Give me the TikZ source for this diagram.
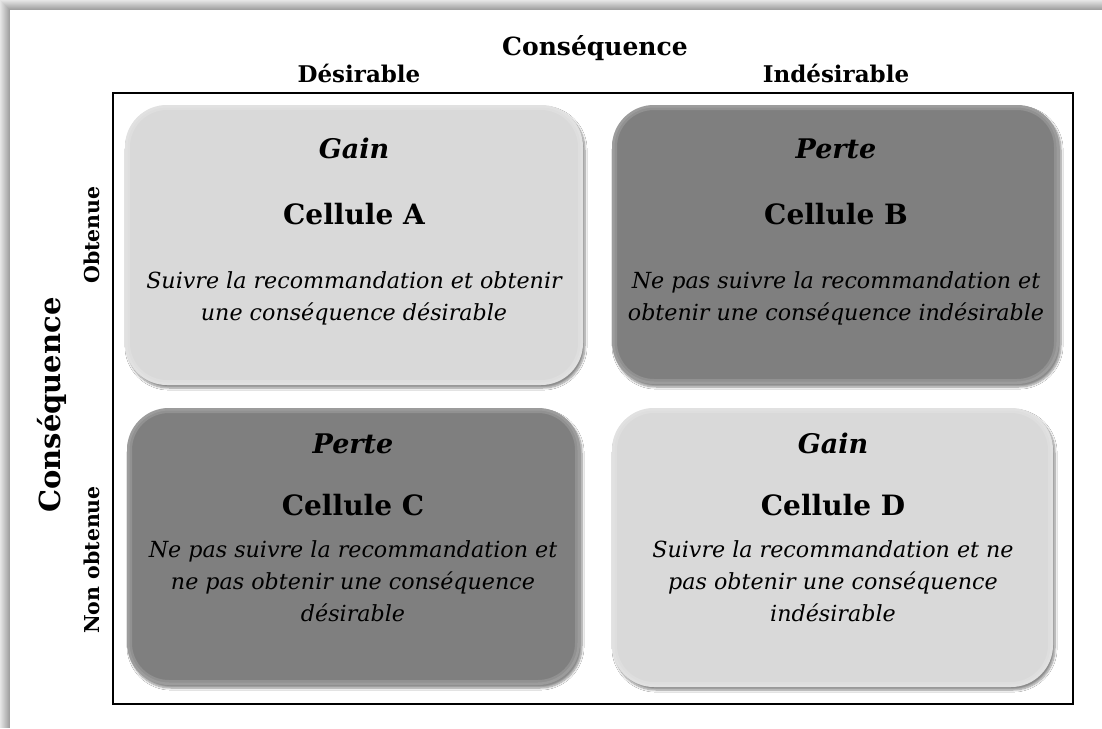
\documentclass[tikz,border=0pt]{standalone}
\usepackage{fontspec}
\setmainfont{DejaVu Serif}
\usetikzlibrary{shadows.blur}
\definecolor{lightcell}{HTML}{D9D9D9}
\definecolor{darkcell}{HTML}{7F7F7F}
\tikzset{
  cell/.style={rounded corners=42pt, inner sep=0pt, draw=none,
    blur shadow={shadow xshift=2pt, shadow yshift=-3pt, shadow blur steps=8, shadow opacity=45},
    path picture={
      \draw[white, opacity=.14, line width=10pt, rounded corners=42pt]
        (path picture bounding box.south west) rectangle (path picture bounding box.north east);
      \draw[white, opacity=.10, line width=5pt, rounded corners=42pt]
        (path picture bounding box.south west) rectangle (path picture bounding box.north east);
    }},
  hdr/.style={font=\fontsize{23}{27}\selectfont\bfseries, inner sep=0pt, anchor=base},
  tophdr/.style={font=\fontsize{25}{30}\selectfont\bfseries, inner sep=0pt, anchor=base},
  side/.style={font=\fontsize{20.5}{25}\selectfont\bfseries, inner sep=0pt, rotate=90},
  bigside/.style={font=\fontsize{29}{34}\selectfont\bfseries, inner sep=0pt, rotate=90},
  kind/.style={font=\fontsize{27}{32}\selectfont\bfseries\itshape, inner sep=0pt, anchor=base},
  cellname/.style={font=\fontsize{28}{33}\selectfont\bfseries, inner sep=0pt, anchor=base},
  body/.style={font=\fontsize{22.2}{32}\selectfont\itshape, inner sep=0pt, anchor=base}
}
\begin{document}
\begin{tikzpicture}[x=1pt,y=-1pt]
\useasboundingbox (0,0) rectangle (1102,728);
% page shadow
\foreach \i in {0,...,9}{
  \pgfmathsetmacro\g{10+3*\i}
  \fill[black!\g] (\i,\i) rectangle (1102,728);
}
\fill[white] (10,10) rectangle (1102,728);
% frame
\node[draw=black, line width=1.2pt, minimum width=960pt, minimum height=611pt, inner sep=0pt] (frame) at (593,398.5) {};
% cells
\node[cell, fill=lightcell, minimum width=458pt, minimum height=280pt] (A) at (354,245) {};
\node[cell, fill=darkcell, minimum width=447pt, minimum height=279pt] (B) at (835.5,244.5) {};
\node[cell, fill=darkcell, minimum width=453pt, minimum height=277pt] (C) at (353.5,546.5) {};
\node[cell, fill=lightcell, minimum width=441pt, minimum height=279pt] (D) at (832.5,547.5) {};
% headers
\node[tophdr] (top) at (595,55) {Conséquence};
\node[hdr] (des) at (359,82) {Désirable};
\node[hdr] (ind) at (836,82) {Indésirable};
\node[bigside] (left) at (52,405) {Conséquence};
\node[side] (obt) at (92,235) {Obtenue};
\node[side] (nobt) at (92,560) {Non obtenue};
% cell A
\node[kind] (Ak) at (354,158) {Gain};
\node[cellname] (An) at (354,224) {Cellule A};
\node[body] (A1) at (354,288) {Suivre la recommandation et obtenir};
\node[body] (A2) at (354,320) {une conséquence désirable};
% cell B
\node[kind] (Bk) at (836,158) {Perte};
\node[cellname] (Bn) at (836,224) {Cellule B};
\node[body] (B1) at (836,288) {Ne pas suivre la recommandation et};
\node[body] (B2) at (836,320) {obtenir une conséquence indésirable};
% cell C
\node[kind] (Ck) at (353,453) {Perte};
\node[cellname] (Cn) at (353,515) {Cellule C};
\node[body] (C1) at (353,557) {Ne pas suivre la recommandation et};
\node[body] (C2) at (353,589) {ne pas obtenir une conséquence};
\node[body] (C3) at (353,621) {désirable};
% cell D
\node[kind] (Dk) at (833,453) {Gain};
\node[cellname] (Dn) at (833,515) {Cellule D};
\node[body] (D1) at (833,557) {Suivre la recommandation et ne};
\node[body] (D2) at (833,589) {pas obtenir une conséquence};
\node[body] (D3) at (833,621) {indésirable};
\end{tikzpicture}
\end{document}
